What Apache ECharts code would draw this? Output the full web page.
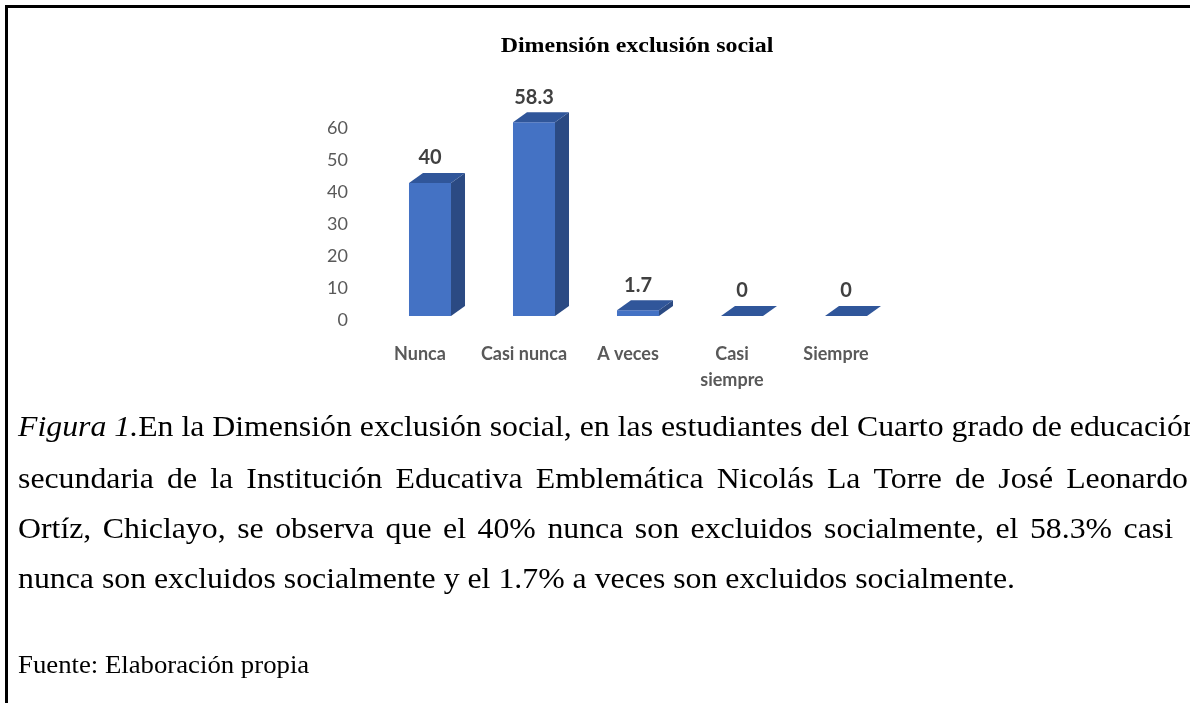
<!DOCTYPE html>
<html>
<head>
<meta charset="utf-8">
<script src="https://cdn.jsdelivr.net/npm/echarts@6/dist/echarts.min.js"></script>
<style>
  html, body { margin: 0; padding: 0; background: #fff; }
  #page { position: relative; width: 1190px; height: 703px; overflow: hidden; background: #fff; }
  #frame { position: absolute; left: 5px; top: 5px; width: 1200px; height: 710px; border-left: 3px solid #000; border-top: 3px solid #000; }
  #chart { position: absolute; left: 0; top: 0; width: 1190px; height: 703px; }
</style>
</head>
<body>
<div id="page">
  <div id="frame"></div>
  <div id="chart"></div>
</div>
<script>
const titleText = 'Dimensión exclusión social';
const categories = ['Nunca', 'Casi nunca', 'A veces', 'Casi\nsiempre', 'Siempre'];
const values = [40, 58.3, 1.7, 0, 0];
const yTicks = { min: 0, max: 60, interval: 10 };
const captionItalic = 'Figura 1.';
const captionLines = [
  'En la Dimensión exclusión social, en las estudiantes del Cuarto grado de educación',
  'secundaria de la Institución Educativa Emblemática Nicolás La Torre de José Leonardo',
  'Ortíz, Chiclayo, se observa que el 40% nunca son excluidos socialmente, el 58.3% casi',
  'nunca son excluidos socialmente y el 1.7% a veces son excluidos socialmente.'
];
const sourceText = 'Fuente: Elaboración propia';

const DX = 14, DY = 10;
const SERIF = '"Liberation Serif", "Times New Roman", serif';
const CAP_SIZE = 30, CAP_SX = 1.06;
const LEFT = 18;
const lineCenters = [428, 480, 530, 580.5];
const justifyRight = [null, 1188, 1173, null];

const mctx = document.createElement('canvas').getContext('2d');
function measure(text, font) { mctx.font = font; return mctx.measureText(text).width; }

const capFont = CAP_SIZE + 'px ' + SERIF;
const capItFont = 'italic ' + CAP_SIZE + 'px ' + SERIF;
const graphics = [];

function addText(str, x, y, font, sx) {
  graphics.push({
    type: 'text', x: x, y: y, scaleX: sx, silent: true,
    style: { text: str, x: 0, y: 0, font: font, fill: '#000', align: 'left', verticalAlign: 'middle' }
  });
}

captionLines.forEach(function (line, li) {
  let x = LEFT;
  const y = lineCenters[li];
  if (li === 0) {
    addText(captionItalic, x, y, capItFont, CAP_SX);
    x += measure(captionItalic, capItFont) * CAP_SX;
  }
  if (justifyRight[li] == null) {
    addText(line, x, y, capFont, CAP_SX);
  } else {
    const words = line.split(' ');
    const widths = words.map(w => measure(w, capFont) * CAP_SX);
    const total = widths.reduce((a, b) => a + b, 0);
    const gap = (justifyRight[li] - x - total) / (words.length - 1);
    words.forEach(function (w, wi) {
      addText(w, x, y, capFont, CAP_SX);
      x += widths[wi] + gap;
    });
  }
});
addText(sourceText, LEFT, 666, '25px ' + SERIF, 1.07);

graphics.push({
  type: 'text', x: 637, y: 47, scaleX: 1.14, silent: true,
  style: { text: titleText, x: 0, y: 0, font: 'bold 21px ' + SERIF, fill: '#000', align: 'center', verticalAlign: 'middle' }
});

const chart = echarts.init(document.getElementById('chart'));

chart.setOption({
  animation: false,
  graphic: graphics,
  grid: [
    { left: 368, width: 520, top: 128, bottom: 383 },
    { left: 378, width: 520, top: 116.5, bottom: 387 }
  ],
  xAxis: [
    {
      type: 'category', gridIndex: 0, data: categories,
      axisLine: { show: false }, axisTick: { show: false },
      axisLabel: { margin: 21, fontFamily: 'Lato', fontWeight: 'bold', fontSize: 18, color: '#595959', lineHeight: 26, interval: 0 }
    },
    { type: 'category', gridIndex: 1, data: categories, show: false }
  ],
  yAxis: [
    {
      type: 'value', gridIndex: 0, min: yTicks.min, max: yTicks.max, interval: yTicks.interval,
      axisLine: { show: false }, axisTick: { show: false }, splitLine: { show: false },
      axisLabel: { margin: 20, fontFamily: 'Lato', fontSize: 18, color: '#595959' }
    },
    { type: 'value', gridIndex: 1, min: yTicks.min, max: yTicks.max, show: false, splitLine: { show: false } }
  ],
  series: [{
    type: 'custom',
    xAxisIndex: 1, yAxisIndex: 1,
    data: values.map((v, i) => [i, v]),
    renderItem: function (params, api) {
      const i = api.value(0), v = api.value(1);
      const top = api.coord([i, v]);
      const base = api.coord([i, 0]);
      const band = api.size([1, 0])[0];
      const w = band * 0.404;
      const x0 = top[0] - w / 2, x1 = top[0] + w / 2;
      const yt = top[1], yb = base[1];
      const children = [];
      children.push({
        type: 'polygon',
        shape: { points: [[x1, yb], [x1, yt], [x1 + DX, yt - DY], [x1 + DX, yb - DY]] },
        style: { fill: '#2B4A83' }
      });
      if (yb - yt > 0.2) {
        children.push({ type: 'rect', shape: { x: x0, y: yt, width: w, height: yb - yt }, style: { fill: '#4472C4' } });
      }
      children.push({
        type: 'polygon',
        shape: { points: [[x0, yt], [x1, yt], [x1 + DX, yt - DY], [x0 + DX, yt - DY]] },
        style: { fill: '#30569A' }
      });
      children.push({
        type: 'text',
        style: {
          text: String(v), x: top[0], y: yt - DY - 15,
          align: 'center', verticalAlign: 'middle',
          font: 'bold 20px Lato', fill: '#404040'
        }
      });
      return { type: 'group', children: children };
    }
  }]
});
</script>
</body>
</html>
